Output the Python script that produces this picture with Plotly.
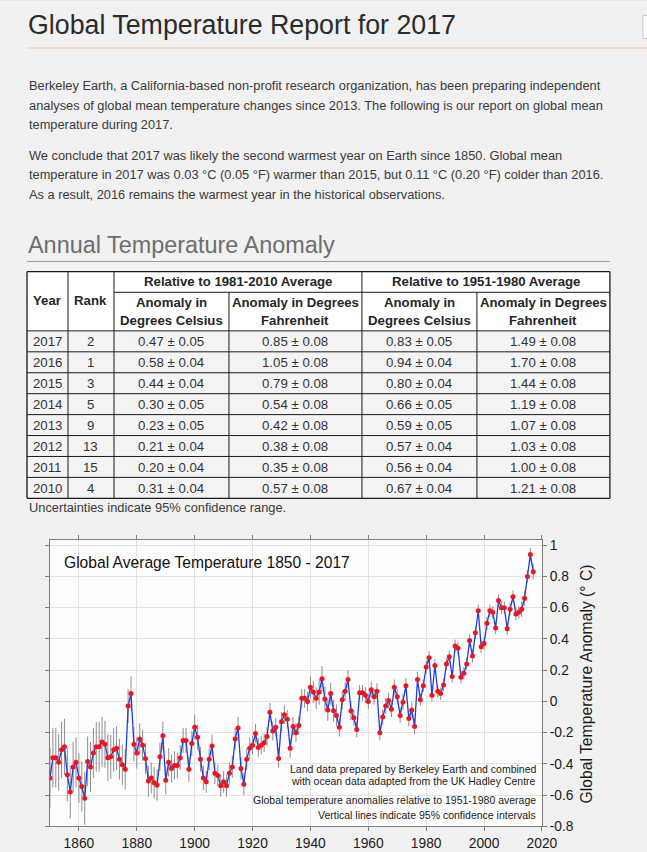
import plotly.graph_objects as go

# The photographed page comes out slightly shrunk (about 0.976 horizontally,
# 0.986 vertically); layout positions below are given in photo pixels and
# converted back to page pixels.
SX, SY, OY = 1 / 0.976, 1 / 0.986, 3.6
FS = 1 / 0.98
W, H = 663, 860
FONT = "Liberation Sans, Arial, sans-serif"


def X(px):
    return (px * SX) / W


def Y(py):
    return 1 - ((py - OY) * SY) / H


# ---------------- chart data ----------------
years = list(range(1850, 2018))
anomaly = [
    -0.49, -0.36, -0.36, -0.39, -0.31, -0.29, -0.47, -0.58, -0.42, -0.39,
    -0.49, -0.545, -0.62, -0.385, -0.42, -0.33, -0.29, -0.29, -0.26, -0.275,
    -0.36, -0.355, -0.31, -0.30, -0.37, -0.405, -0.435, -0.03, 0.05, -0.275,
    -0.33, -0.24, -0.28, -0.365, -0.51, -0.49, -0.52, -0.535, -0.355, -0.22,
    -0.505, -0.39, -0.43, -0.41, -0.41, -0.36, -0.25, -0.25, -0.435, -0.27,
    -0.165, -0.23, -0.37, -0.49, -0.515, -0.37, -0.285, -0.46, -0.475, -0.54,
    -0.515, -0.54, -0.46, -0.42, -0.24, -0.17, -0.43, -0.53, -0.37, -0.30,
    -0.28, -0.205, -0.295, -0.28, -0.265, -0.225, -0.07, -0.19, -0.165, -0.365,
    -0.13, -0.085, -0.115, -0.30, -0.16, -0.20, -0.155, 0.02, 0.02, 0.00,
    0.09, 0.06, 0.02, 0.06, 0.145, 0.015, -0.055, 0.05, -0.06, -0.09,
    -0.165, 0.01, 0.065, 0.14, -0.06, -0.105, -0.18, 0.055, 0.055, 0.04,
    0.00, 0.075, 0.03, 0.065, -0.20, -0.10, -0.03, 0.005, -0.05, 0.09,
    0.03, -0.09, -0.005, 0.10, -0.11, -0.055, -0.16, 0.14, 0.01, 0.10,
    0.22, 0.28, 0.04, 0.23, 0.065, 0.05, 0.105, 0.24, 0.285, 0.16,
    0.355, 0.34, 0.155, 0.18, 0.24, 0.39, 0.29, 0.44, 0.58, 0.35,
    0.37, 0.50, 0.58, 0.57, 0.47, 0.645, 0.60, 0.60, 0.465, 0.59,
    0.67, 0.56, 0.57, 0.59, 0.66, 0.80, 0.94, 0.83,
]
uncertainty = [
    0.19, 0.19, 0.19, 0.18, 0.18, 0.18, 0.17, 0.17, 0.16, 0.16,
    0.16, 0.16, 0.17, 0.16, 0.16, 0.16, 0.16, 0.16, 0.16, 0.15,
    0.15, 0.14, 0.14, 0.14, 0.13, 0.13, 0.13, 0.11, 0.11, 0.11,
    0.10, 0.10, 0.10, 0.10, 0.10, 0.10, 0.10, 0.10, 0.09, 0.09,
    0.09, 0.09, 0.09, 0.09, 0.08, 0.08, 0.08, 0.08, 0.08, 0.08,
    0.08, 0.08, 0.08, 0.08, 0.07, 0.07, 0.07, 0.07, 0.07, 0.07,
    0.07, 0.07, 0.07, 0.07, 0.07, 0.07, 0.07, 0.07, 0.07, 0.07,
    0.06, 0.06, 0.06, 0.06, 0.06, 0.06, 0.06, 0.06, 0.06, 0.06,
    0.06, 0.06, 0.06, 0.06, 0.06, 0.06, 0.06, 0.06, 0.06, 0.06,
    0.07, 0.07, 0.07, 0.08, 0.08, 0.08, 0.07, 0.07, 0.07, 0.07,
    0.06, 0.06, 0.06, 0.06, 0.06, 0.05, 0.05, 0.05, 0.05, 0.05,
    0.05, 0.05, 0.05, 0.05, 0.05, 0.05, 0.05, 0.05, 0.05, 0.05,
    0.05, 0.05, 0.05, 0.05, 0.05, 0.05, 0.05, 0.05, 0.04, 0.04,
    0.04, 0.04, 0.04, 0.04, 0.04, 0.04, 0.04, 0.04, 0.04, 0.04,
    0.04, 0.04, 0.04, 0.04, 0.04, 0.04, 0.04, 0.04, 0.04, 0.04,
    0.04, 0.04, 0.04, 0.04, 0.04, 0.04, 0.04, 0.04, 0.04, 0.04,
    0.04, 0.04, 0.04, 0.05, 0.05, 0.04, 0.04, 0.05,
]
x_ticks = [1860, 1880, 1900, 1920, 1940, 1960, 1980, 2000, 2020]
y_ticks = [-0.8, -0.6, -0.4, -0.2, 0, 0.2, 0.4, 0.6, 0.8, 1]
y_tick_text = ["-0.8", "-0.6", "-0.4", "-0.2", "0", "0.2", "0.4", "0.6", "0.8", "1"]

# ---------------- table data ----------------
t_years = ["2017", "2016", "2015", "2014", "2013", "2012", "2011", "2010"]
t_rank = ["2", "1", "3", "5", "9", "13", "15", "4"]
t_c_8110 = ["0.47 ± 0.05", "0.58 ± 0.04", "0.44 ± 0.04", "0.30 ± 0.05",
            "0.23 ± 0.05", "0.21 ± 0.04", "0.20 ± 0.04", "0.31 ± 0.04"]
t_f_8110 = ["0.85 ± 0.08", "1.05 ± 0.08", "0.79 ± 0.08", "0.54 ± 0.08",
            "0.42 ± 0.08", "0.38 ± 0.08", "0.35 ± 0.08", "0.57 ± 0.08"]
t_c_5180 = ["0.83 ± 0.05", "0.94 ± 0.04", "0.80 ± 0.04", "0.66 ± 0.05",
            "0.59 ± 0.05", "0.57 ± 0.04", "0.56 ± 0.04", "0.67 ± 0.04"]
t_f_5180 = ["1.49 ± 0.08", "1.70 ± 0.08", "1.44 ± 0.08", "1.19 ± 0.08",
            "1.07 ± 0.08", "1.03 ± 0.08", "1.00 ± 0.08", "1.21 ± 0.08"]

page_title = "Global Temperature Report for 2017"
para1 = [
    "Berkeley Earth, a California-based non-profit research organization, has been preparing independent",
    "analyses of global mean temperature changes since 2013. The following is our report on global mean",
    "temperature during 2017.",
]
para2 = [
    "We conclude that 2017 was likely the second warmest year on Earth since 1850. Global mean",
    "temperature in 2017 was 0.03 °C (0.05 °F) warmer than 2015, but 0.11 °C (0.20 °F) colder than 2016.",
    "As a result, 2016 remains the warmest year in the historical observations.",
]
section_title = "Annual Temperature Anomaly"
table_note = "Uncertainties indicate 95% confidence range."
chart_title = "Global Average Temperature 1850 - 2017"
chart_notes = [
    "Land data prepared by Berkeley Earth and combined",
    "with ocean data adapted from the UK Hadley Centre",
    "Global temperature anomalies relative to 1951-1980 average",
    "Vertical lines indicate 95% confidence intervals",
]
y_title = "Global Temperature Anomaly (° C)"

# ---------------- figure ----------------
fig = go.Figure()
fig.add_trace(go.Scatter(
    x=years, y=anomaly, mode="markers",
    marker=dict(size=1, color="rgba(0,0,0,0)"),
    error_y=dict(type="data", array=uncertainty, color="#8e8e8e", thickness=1, width=0),
    showlegend=False, hoverinfo="skip"))
fig.add_trace(go.Scatter(
    x=years, y=anomaly, mode="lines",
    line=dict(color="#1f3de0", width=1.3), showlegend=False))
fig.add_trace(go.Scatter(
    x=years, y=anomaly, mode="markers",
    marker=dict(color="#f0141e", size=5, line=dict(width=0)), showlegend=False))

ann = []
shapes = []


def text(x, y, s, size, color="#333", xanchor="left", bold=False, angle=0):
    ann.append(dict(
        x=X(x), y=Y(y), xref="paper", yref="paper", text=("<b>%s</b>" % s) if bold else s,
        showarrow=False, xanchor=xanchor, yanchor="middle", textangle=angle,
        font=dict(family=FONT, size=size * FS, color=color)))


def hline(x0, x1, y, color, width=1):
    shapes.append(dict(type="line", xref="paper", yref="paper",
                       x0=X(x0), x1=X(x1), y0=Y(y), y1=Y(y),
                       line=dict(color=color, width=width)))


def vline(x, y0, y1, color, width=1):
    shapes.append(dict(type="line", xref="paper", yref="paper",
                       x0=X(x), x1=X(x), y0=Y(y0), y1=Y(y1),
                       line=dict(color=color, width=width)))


def rect(x0, y0, x1, y1, fill):
    shapes.append(dict(type="rect", xref="paper", yref="paper", layer="below",
                       x0=X(x0), x1=X(x1), y0=Y(y1), y1=Y(y0), fillcolor=fill,
                       line=dict(width=0)))


# page header
hline(0, 647, 1.5, "#d6d6d6")
text(26, 27, page_title, 26.25, "#2b2b2b")
hline(27, 647, 49.5, "#efc9a4", 1.2)
shapes.append(dict(type="rect", xref="paper", yref="paper", x0=X(643), x1=X(652),
                   y0=Y(40), y1=Y(17), fillcolor="#ffffff", line=dict(color="#c8c8c8", width=1)))

for i, s in enumerate(para1):
    text(27, 87.3 + 19.3 * i, s, 12.57, "#3a3a3a")
for i, s in enumerate(para2):
    text(27, 156.8 + 19.2 * i, s, 12.57, "#3a3a3a")

text(26, 246.5, section_title, 22.95, "#6e6e6e")
hline(27, 610, 262.5, "#9a9a9a", 1)

# table
cols = [27, 68, 114, 229, 362, 477, 610]
top, mid, hbot = 272.5, 293.2, 331.7
rh = 20.88
bottom = hbot + rh * len(t_years)
rect(cols[0], top, cols[-1], hbot, "#ffffff")
rect(cols[0], hbot, cols[-1], bottom, "#f4f4f4")
bc = "#1a1a1a"
hline(cols[0], cols[-1], top, bc, 1.3)
hline(cols[2], cols[-1], mid, bc, 1)
hline(cols[0], cols[-1], hbot, bc, 1)
for r in range(1, len(t_years)):
    hline(cols[0], cols[-1], hbot + rh * r, bc, 1)
hline(cols[0], cols[-1], bottom, bc, 1.3)
vline(cols[0], top, bottom, bc, 1.3)
vline(cols[-1], top, bottom, bc, 1.3)
vline(cols[1], top, bottom, bc)
vline(cols[2], top, bottom, bc)
vline(cols[4], top, bottom, bc)
vline(cols[3], mid, bottom, bc)
vline(cols[5], mid, bottom, bc)


def cc(i):
    return (cols[i] + cols[i + 1]) / 2


hc = "#262626"
HF = 12.95
text(cc(0), 301.5, "Year", HF, hc, "center", True)
text(cc(1), 301.5, "Rank", HF, hc, "center", True)
text((cols[2] + cols[4]) / 2, 282.8, "Relative to 1981-2010 Average", HF, hc, "center", True)
text((cols[4] + cols[6]) / 2, 282.8, "Relative to 1951-1980 Average", HF, hc, "center", True)
for c in (2, 4):
    text(cc(c), 303.2, "Anomaly in", HF, hc, "center", True)
    text(cc(c), 321.3, "Degrees Celsius", HF, hc, "center", True)
for c in (3, 5):
    text(cc(c), 303.2, "Anomaly in Degrees", HF, hc, "center", True)
    text(cc(c), 321.3, "Fahrenheit", HF, hc, "center", True)

columns = [t_years, t_rank, t_c_8110, t_f_8110, t_c_5180, t_f_5180]
for c, vals in enumerate(columns):
    for r, v in enumerate(vals):
        text(cc(c), hbot + rh * r + rh / 2 + 0.5, v, 13.0, "#333", "center")

text(27, 507.5, table_note, 12.57, "#3a3a3a")

# chart texts
text(62, 562.5, chart_title, 15.3, "#111")
note_y = [768.3, 780.3, 799.3, 815]
for s, yy in zip(chart_notes, note_y):
    text(538, yy, s, 10.3, "#1a1a1a", "right")
text(587, 683.5, y_title, 15.4, "#1a1a1a", "center", angle=-90)

axis_line = "#7c7c7c"
grid = "#e3e3e3"
tick_font = dict(family=FONT, size=13.5 * FS, color="#1a1a1a")

fig.update_layout(
    width=W, height=H,
    margin=dict(l=0, r=0, t=0, b=0),
    paper_bgcolor="#f1f1f1",
    plot_bgcolor="#fdfdfd",
    showlegend=False,
    annotations=ann,
    shapes=shapes,
    xaxis=dict(
        domain=[X(50), X(542)], range=[1850, 2020],
        tickvals=x_ticks, ticks="outside", ticklen=4, tickcolor=axis_line,
        showline=True, linecolor=axis_line, linewidth=1, mirror="ticks",
        showgrid=True, gridcolor=grid, gridwidth=1, zeroline=False,
        tickfont=tick_font,
    ),
    yaxis=dict(
        domain=[Y(826), Y(540)], range=[-0.8, 1.035], side="right",
        tickvals=y_ticks, ticktext=y_tick_text, ticks="outside", ticklen=4,
        tickcolor=axis_line, showline=True, linecolor=axis_line, linewidth=1,
        mirror="ticks", showgrid=True, gridcolor=grid, gridwidth=1, zeroline=False,
        tickfont=tick_font,
    ),
)

fig.write_html(
    "out.html",
    config={"displayModeBar": False},
    post_script="document.body.style.margin='0';document.body.style.overflow='hidden';"
                "document.body.style.background='#f1f1f1';",
)
